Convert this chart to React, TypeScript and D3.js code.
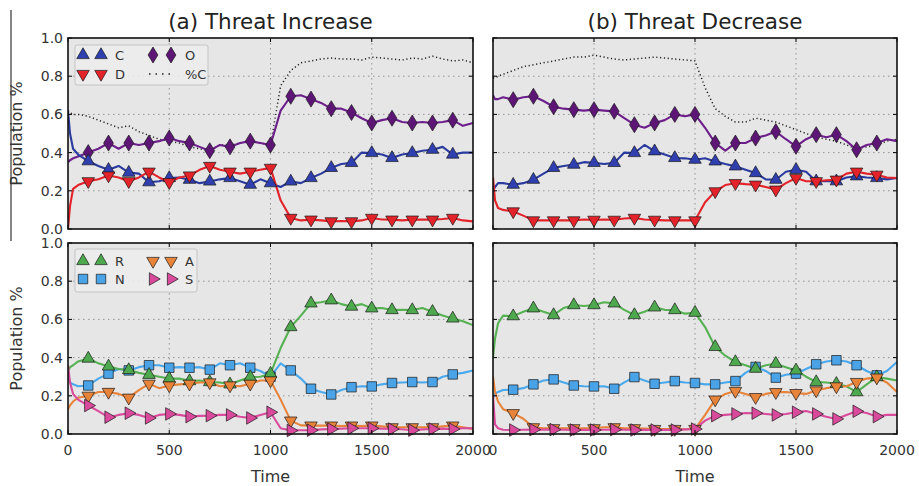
import React from "react";
import * as d3 from "d3";

// ---------- DATA ----------
const TIME = [0, 10, 25, 50, 100, 150, 200, 250, 300, 350, 400, 450, 500, 550, 600, 650, 700, 750, 800, 850, 900, 950, 1000,
  1050, 1100, 1150, 1200, 1250, 1300, 1350, 1400, 1450, 1500, 1550, 1600, 1650, 1700, 1750, 1800, 1850, 1900, 1950, 2000];

const X_TICKS = [0, 500, 1000, 1500, 2000];
const Y_TICKS = [0, 0.2, 0.4, 0.6, 0.8, 1.0];
const TITLES = ["(a) Threat Increase", "(b) Threat Decrease"];

// Top row (a): Threat Increase
const PC_A = [0.62, 0.61, 0.60, 0.60, 0.59, 0.57, 0.55, 0.53, 0.54, 0.51, 0.49, 0.47, 0.46, 0.45, 0.43, 0.42, 0.41, 0.44, 0.44, 0.45, 0.46, 0.45, 0.44,
  0.75, 0.83, 0.87, 0.88, 0.89, 0.895, 0.89, 0.89, 0.885, 0.90, 0.895, 0.89, 0.885, 0.895, 0.89, 0.905, 0.89, 0.88, 0.885, 0.87];
const C_A = [0.62, 0.50, 0.42, 0.39, 0.355, 0.33, 0.31, 0.33, 0.295, 0.29, 0.245, 0.25, 0.267, 0.27, 0.258, 0.24, 0.249, 0.26, 0.267, 0.25, 0.232, 0.26, 0.24,
  0.22, 0.249, 0.24, 0.267, 0.29, 0.32, 0.34, 0.346, 0.40, 0.398, 0.39, 0.372, 0.39, 0.398, 0.41, 0.415, 0.43, 0.39, 0.40, 0.40];
const D_A = [0.0, 0.12, 0.21, 0.23, 0.25, 0.26, 0.28, 0.27, 0.25, 0.27, 0.30, 0.27, 0.245, 0.27, 0.28, 0.31, 0.33, 0.31, 0.30, 0.29, 0.30, 0.31, 0.32,
  0.15, 0.058, 0.045, 0.049, 0.045, 0.04, 0.042, 0.04, 0.045, 0.058, 0.05, 0.049, 0.045, 0.049, 0.05, 0.049, 0.052, 0.058, 0.045, 0.04];
const O_A = [0.35, 0.36, 0.37, 0.38, 0.40, 0.42, 0.45, 0.42, 0.45, 0.44, 0.45, 0.46, 0.476, 0.46, 0.45, 0.43, 0.41, 0.44, 0.43, 0.45, 0.46, 0.45, 0.44,
  0.62, 0.695, 0.70, 0.68, 0.66, 0.63, 0.63, 0.61, 0.58, 0.555, 0.57, 0.58, 0.56, 0.555, 0.56, 0.555, 0.56, 0.57, 0.54, 0.555];

// Top row (b): Threat Decrease
const PC_B = [0.79, 0.79, 0.80, 0.81, 0.83, 0.85, 0.86, 0.87, 0.88, 0.89, 0.90, 0.90, 0.91, 0.90, 0.89, 0.885, 0.89, 0.895, 0.90, 0.895, 0.89, 0.885, 0.88,
  0.74, 0.63, 0.59, 0.56, 0.56, 0.58, 0.57, 0.56, 0.54, 0.52, 0.50, 0.48, 0.47, 0.46, 0.44, 0.42, 0.43, 0.44, 0.46, 0.47];
const C_B = [0.20, 0.22, 0.24, 0.24, 0.232, 0.24, 0.258, 0.29, 0.32, 0.33, 0.337, 0.35, 0.346, 0.34, 0.346, 0.40, 0.398, 0.44, 0.407, 0.39, 0.372, 0.37, 0.363,
  0.37, 0.354, 0.34, 0.328, 0.31, 0.293, 0.26, 0.258, 0.30, 0.31, 0.30, 0.25, 0.25, 0.25, 0.27, 0.276, 0.27, 0.267, 0.26, 0.267];
const D_B = [0.27, 0.15, 0.11, 0.10, 0.092, 0.07, 0.045, 0.045, 0.045, 0.045, 0.045, 0.05, 0.048, 0.05, 0.048, 0.055, 0.058, 0.05, 0.048, 0.045, 0.045, 0.045, 0.045,
  0.14, 0.197, 0.23, 0.24, 0.235, 0.232, 0.22, 0.206, 0.24, 0.267, 0.25, 0.25, 0.255, 0.258, 0.29, 0.30, 0.29, 0.284, 0.27, 0.267];
const O_B = [0.70, 0.68, 0.68, 0.69, 0.677, 0.69, 0.695, 0.67, 0.64, 0.63, 0.625, 0.62, 0.625, 0.62, 0.616, 0.58, 0.546, 0.53, 0.555, 0.57, 0.60, 0.59, 0.60,
  0.53, 0.45, 0.41, 0.45, 0.45, 0.476, 0.49, 0.51, 0.47, 0.433, 0.47, 0.494, 0.48, 0.494, 0.46, 0.415, 0.44, 0.45, 0.47, 0.46];

// Bottom row (a)
const R_A = [0.33, 0.35, 0.36, 0.38, 0.395, 0.37, 0.354, 0.34, 0.335, 0.32, 0.31, 0.30, 0.29, 0.29, 0.277, 0.28, 0.272, 0.27, 0.26, 0.28, 0.298, 0.30, 0.316,
  0.45, 0.56, 0.62, 0.684, 0.69, 0.70, 0.68, 0.667, 0.68, 0.658, 0.66, 0.649, 0.65, 0.649, 0.66, 0.64, 0.62, 0.605, 0.59, 0.57];
const N_A = [0.30, 0.27, 0.26, 0.25, 0.254, 0.29, 0.316, 0.34, 0.333, 0.35, 0.36, 0.36, 0.347, 0.35, 0.347, 0.35, 0.337, 0.37, 0.36, 0.37, 0.347, 0.33, 0.30,
  0.37, 0.333, 0.29, 0.237, 0.22, 0.207, 0.23, 0.245, 0.25, 0.249, 0.26, 0.267, 0.27, 0.272, 0.27, 0.272, 0.30, 0.312, 0.32, 0.333];
const A_A = [0.13, 0.15, 0.17, 0.19, 0.20, 0.22, 0.22, 0.21, 0.19, 0.23, 0.263, 0.24, 0.254, 0.26, 0.263, 0.27, 0.27, 0.25, 0.254, 0.25, 0.263, 0.28, 0.28,
  0.18, 0.07, 0.045, 0.044, 0.044, 0.044, 0.042, 0.044, 0.042, 0.044, 0.04, 0.035, 0.035, 0.035, 0.035, 0.035, 0.04, 0.044, 0.035, 0.026];
const S_A = [0.36, 0.27, 0.21, 0.18, 0.149, 0.12, 0.088, 0.10, 0.109, 0.10, 0.084, 0.10, 0.105, 0.10, 0.091, 0.095, 0.096, 0.10, 0.10, 0.09, 0.084, 0.10, 0.114,
  0.03, 0.018, 0.02, 0.02, 0.024, 0.026, 0.028, 0.03, 0.03, 0.03, 0.028, 0.026, 0.025, 0.02, 0.024, 0.026, 0.028, 0.026, 0.03, 0.03];

// Bottom row (b)
const R_B = [0.40, 0.50, 0.58, 0.62, 0.617, 0.64, 0.658, 0.64, 0.623, 0.66, 0.675, 0.67, 0.675, 0.69, 0.684, 0.65, 0.623, 0.64, 0.663, 0.65, 0.649, 0.63, 0.635,
  0.56, 0.456, 0.41, 0.377, 0.36, 0.342, 0.36, 0.368, 0.35, 0.333, 0.30, 0.272, 0.27, 0.263, 0.25, 0.219, 0.26, 0.298, 0.29, 0.28];
const N_B = [0.19, 0.21, 0.22, 0.23, 0.232, 0.24, 0.26, 0.28, 0.286, 0.27, 0.254, 0.25, 0.249, 0.25, 0.237, 0.27, 0.298, 0.28, 0.263, 0.27, 0.277, 0.27, 0.267,
  0.26, 0.26, 0.27, 0.277, 0.32, 0.351, 0.33, 0.295, 0.31, 0.316, 0.34, 0.365, 0.38, 0.386, 0.38, 0.36, 0.33, 0.307, 0.33, 0.377];
const A_B = [0.30, 0.22, 0.17, 0.13, 0.109, 0.08, 0.035, 0.03, 0.03, 0.03, 0.03, 0.03, 0.03, 0.035, 0.035, 0.03, 0.03, 0.028, 0.026, 0.026, 0.026, 0.025, 0.026,
  0.10, 0.18, 0.21, 0.225, 0.21, 0.193, 0.21, 0.219, 0.22, 0.214, 0.21, 0.228, 0.24, 0.249, 0.25, 0.272, 0.29, 0.295, 0.27, 0.22];
const S_B = [0.20, 0.05, 0.03, 0.022, 0.021, 0.022, 0.023, 0.023, 0.023, 0.022, 0.021, 0.022, 0.021, 0.022, 0.023, 0.022, 0.021, 0.022, 0.021, 0.022, 0.021, 0.024, 0.026,
  0.07, 0.096, 0.10, 0.105, 0.11, 0.109, 0.105, 0.10, 0.105, 0.114, 0.12, 0.105, 0.09, 0.079, 0.10, 0.119, 0.11, 0.091, 0.10, 0.10];

// ---------- STYLES ----------
type Shape = "up" | "down" | "diamond" | "square" | "right" | "none";
interface SeriesDef { name: string; values: number[]; color: string; mfill: string; shape: Shape; dotted?: boolean; }

const TOP_STYLE = {
  C: { color: "#2b3a9e", mfill: "#2f3fb0", shape: "up" as Shape },
  D: { color: "#e42229", mfill: "#e42229", shape: "down" as Shape },
  O: { color: "#6c1f8a", mfill: "#5d1676", shape: "diamond" as Shape },
  PC: { color: "#222", mfill: "#222", shape: "none" as Shape },
};
const BOT_STYLE = {
  R: { color: "#56b153", mfill: "#4ea84d", shape: "up" as Shape },
  N: { color: "#4aa8ec", mfill: "#4aa3e6", shape: "square" as Shape },
  A: { color: "#e8833a", mfill: "#e8833a", shape: "down" as Shape },
  S: { color: "#da4a9c", mfill: "#da4a9c", shape: "right" as Shape },
};

function topSeries(pc: number[], c: number[], d: number[], o: number[]): SeriesDef[] {
  return [
    { name: "%C", values: pc, ...TOP_STYLE.PC, dotted: true },
    { name: "O", values: o, ...TOP_STYLE.O },
    { name: "C", values: c, ...TOP_STYLE.C },
    { name: "D", values: d, ...TOP_STYLE.D },
  ];
}
function botSeries(r: number[], n: number[], a: number[], s: number[]): SeriesDef[] {
  return [
    { name: "N", values: n, ...BOT_STYLE.N },
    { name: "R", values: r, ...BOT_STYLE.R },
    { name: "A", values: a, ...BOT_STYLE.A },
    { name: "S", values: s, ...BOT_STYLE.S },
  ];
}

const PANELS = [
  { x0: 68, x1: 473, y0: 38, y1: 229, series: topSeries(PC_A, C_A, D_A, O_A), legend: "top", ylabel: true, title: TITLES[0] },
  { x0: 493, x1: 897, y0: 38, y1: 229, series: topSeries(PC_B, C_B, D_B, O_B), legend: null, ylabel: false, title: TITLES[1] },
  { x0: 68, x1: 473, y0: 243, y1: 434, series: botSeries(R_A, N_A, A_A, S_A), legend: "bot", ylabel: true, xlabels: true },
  { x0: 493, x1: 897, y0: 243, y1: 434, series: botSeries(R_B, N_B, A_B, S_B), legend: null, ylabel: false, xlabels: true },
];

const FONT = "DejaVu Sans, sans-serif";

function markerPath(shape: Shape): { d: string; rot: number } {
  switch (shape) {
    case "up": return { d: d3.symbol(d3.symbolTriangle, 68)()!, rot: 0 };
    case "down": return { d: d3.symbol(d3.symbolTriangle, 68)()!, rot: 180 };
    case "right": return { d: d3.symbol(d3.symbolTriangle, 68)()!, rot: 90 };
    case "square": return { d: d3.symbol(d3.symbolSquare, 90)()!, rot: 0 };
    case "diamond": return { d: "M0,-8L4.9,0L0,8L-4.9,0Z", rot: 0 };
    default: return { d: "", rot: 0 };
  }
}

function Marker({ x, y, s }: { x: number; y: number; s: SeriesDef }) {
  const m = markerPath(s.shape);
  return <path d={m.d} transform={`translate(${x},${y}) rotate(${m.rot})`} fill={s.mfill} stroke="#1a1a1a" strokeWidth={0.7} />;
}

function Panel({ p }: { p: any }) {
  const x = d3.scaleLinear().domain([0, 2000]).range([p.x0, p.x1]);
  const y = d3.scaleLinear().domain([0, 1]).range([p.y1, p.y0]);
  const line = d3.line<number>().x((_, i) => x(TIME[i])).y((v) => y(v));
  const clipId = `clip-${p.x0}-${p.y0}`;
  const markerIdx = TIME.map((t, i) => (t >= 100 && t <= 1900 && t % 100 === 0 ? i : -1)).filter((i) => i >= 0);
  const series: SeriesDef[] = p.series;
  return (
    <g>
      <defs>
        <clipPath id={clipId}><rect x={p.x0} y={p.y0 - 8} width={p.x1 - p.x0 + 8} height={p.y1 - p.y0 + 16} /></clipPath>
      </defs>
      <rect x={p.x0} y={p.y0} width={p.x1 - p.x0} height={p.y1 - p.y0} fill="#e6e6e6" />
      {X_TICKS.slice(1, -1).map((t) => (
        <line key={"gx" + t} x1={x(t)} x2={x(t)} y1={p.y0} y2={p.y1} stroke="#8a8a8a" strokeWidth={0.9} strokeDasharray="1.5,3.5" />
      ))}
      {Y_TICKS.slice(1, -1).map((t) => (
        <line key={"gy" + t} x1={p.x0} x2={p.x1} y1={y(t)} y2={y(t)} stroke="#8a8a8a" strokeWidth={0.9} strokeDasharray="1.5,3.5" />
      ))}
      <g clipPath={`url(#${clipId})`}>
        {series.map((s) => (
          <path key={"l" + s.name} d={line(s.values)!} fill="none" stroke={s.color}
            strokeWidth={s.dotted ? 1.5 : 2.1} strokeDasharray={s.dotted ? "1.2,2.6" : undefined} strokeLinejoin="round" />
        ))}
        {series.filter((s) => s.shape !== "none").map((s) => (
          <g key={"m" + s.name}>
            {markerIdx.map((i) => <Marker key={i} x={x(TIME[i])} y={y(s.values[i])} s={s} />)}
          </g>
        ))}
      </g>
      {X_TICKS.map((t) => (
        <g key={"tx" + t}>
          <line x1={x(t)} x2={x(t)} y1={p.y1} y2={p.y1 - 4} stroke="#000" />
          <line x1={x(t)} x2={x(t)} y1={p.y0} y2={p.y0 + 4} stroke="#000" />
        </g>
      ))}
      {Y_TICKS.map((t) => (
        <g key={"ty" + t}>
          <line x1={p.x0} x2={p.x0 + 4} y1={y(t)} y2={y(t)} stroke="#000" />
          <line x1={p.x1} x2={p.x1 - 4} y1={y(t)} y2={y(t)} stroke="#000" />
        </g>
      ))}
      <rect x={p.x0} y={p.y0} width={p.x1 - p.x0} height={p.y1 - p.y0} fill="none" stroke="#111" strokeWidth={1.6} />
      {p.ylabel && Y_TICKS.map((t) => (
        <text key={"yl" + t} x={p.x0 - 5} y={y(t)} dy="0.35em" textAnchor="end" fontSize={14} fill="#333" fontFamily={FONT}>{t.toFixed(1)}</text>
      ))}
      {p.ylabel && (
        <text transform={`translate(${22},${(p.y0 + p.y1) / 2}) rotate(-90)`} textAnchor="middle" fontSize={16} fill="#333" fontFamily={FONT}>Population %</text>
      )}
      {p.xlabels && X_TICKS.map((t) => (
        <text key={"xl" + t} x={x(t)} y={p.y1 + 21} textAnchor="middle" fontSize={14} fill="#333" fontFamily={FONT}>{t}</text>
      ))}
      {p.xlabels && (
        <text x={(p.x0 + p.x1) / 2} y={482} textAnchor="middle" fontSize={16} fill="#333" fontFamily={FONT}>Time</text>
      )}
      {p.title && (
        <text x={(p.x0 + p.x1) / 2} y={29} textAnchor="middle" fontSize={21.5} fill="#222" fontFamily={FONT}>{p.title}</text>
      )}
      {p.legend && <Legend p={p} />}
    </g>
  );
}

function Legend({ p }: { p: any }) {
  const series: SeriesDef[] = p.series;
  const isTop = p.legend === "top";
  const order = isTop ? ["C", "D", "O", "%C"] : ["R", "N", "A", "S"];
  const boxW = isTop ? 133 : 122;
  const x0 = p.x0 + 7;
  const y0 = p.y0 + (isTop ? 7 : 6);
  const rows = isTop ? [y0 + 10, y0 + 29] : [y0 + 12, y0 + 30];
  const boxH = isTop ? 40 : 43;
  return (
    <g>
      <rect x={x0} y={y0} width={boxW} height={boxH} fill="#ececec" fillOpacity={0.9} stroke="#c4c4c4" strokeWidth={1} rx={2} />
      {order.map((name, k) => {
        const s = series.find((q) => q.name === name)!;
        const col = Math.floor(k / 2);
        const row = k % 2;
        const cx = x0 + 8 + col * 70;
        const cy = rows[row];
        return (
          <g key={name}>
            {s.shape === "none" ? (
              <line x1={cx - 4} x2={cx + 22} y1={cy} y2={cy} stroke={s.color} strokeWidth={1.4} strokeDasharray="1.5,5" />
            ) : (
              <>
                <Marker x={cx} y={cy} s={s} />
                <Marker x={cx + 18} y={cy} s={s} />
              </>
            )}
            <text x={cx + 32} y={cy} dy="0.36em" fontSize={13} fill="#333" fontFamily={FONT}>{name}</text>
          </g>
        );
      })}
    </g>
  );
}

export default function App() {
  return (
    <svg width={919} height={486} style={{ position: "absolute", left: 0, top: 0, background: "#fff" }}>
      <rect x={0} y={0} width={919} height={486} fill="#fff" />
      <line x1={11} x2={11} y1={10} y2={241} stroke="#333" strokeWidth={1.2} />
      {PANELS.map((p, i) => <Panel key={i} p={p} />)}
    </svg>
  );
}
